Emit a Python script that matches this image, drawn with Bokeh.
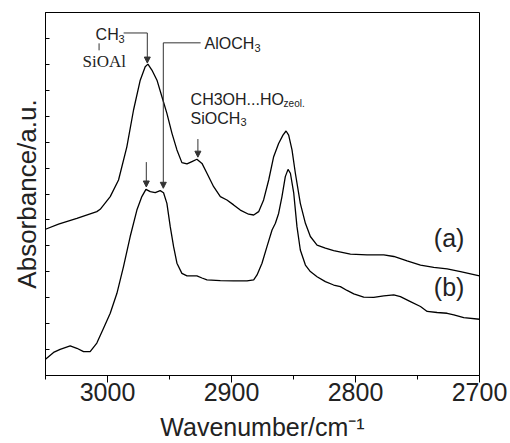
from bokeh.plotting import figure
from bokeh.models import FixedTicker, Label, Arrow, NormalHead
from bokeh.embed import file_html
from bokeh.resources import INLINE

# ---- data ----
wn_a = [3050.0, 3039.5, 3024.7, 3008.6, 3005.9, 2997.8, 2991.1, 2984.4, 2979.0, 2973.6,
        2969.6, 2967.4, 2964.2, 2960.1, 2956.1, 2952.1, 2948.0, 2944.0, 2940.0, 2935.9,
        2931.9, 2927.9, 2923.8, 2919.8, 2914.4, 2909.0, 2903.7, 2898.3, 2892.9, 2886.2,
        2882.1, 2878.1, 2874.1, 2870.0, 2866.0, 2862.0, 2858.5, 2856.0, 2853.9, 2851.2,
        2848.5, 2844.5, 2840.4, 2836.4, 2831.0, 2824.3, 2817.6, 2804.1, 2790.7, 2777.2,
        2769.1, 2758.4, 2747.6, 2736.9, 2726.1, 2715.3, 2700.0]
abs_a = [5.64, 5.84, 6.06, 6.32, 6.41, 6.90, 7.54, 8.82, 10.24, 11.39,
         11.91, 12.01, 11.78, 11.39, 10.75, 10.11, 9.34, 8.70, 8.21, 8.16,
         8.25, 8.34, 8.18, 7.80, 7.28, 6.90, 6.77, 6.58, 6.38, 6.22,
         6.19, 6.32, 6.77, 7.54, 8.44, 8.95, 9.27, 9.43, 9.27, 8.70,
         7.80, 6.64, 5.87, 5.36, 5.03, 4.91, 4.82, 4.68, 4.65, 4.65,
         4.59, 4.42, 4.26, 4.17, 4.11, 4.01, 3.84]

wn_b = [3050.0, 3043.5, 3038.2, 3030.1, 3024.7, 3019.3, 3014.0, 3008.6, 3003.2, 2997.8,
        2992.4, 2987.1, 2981.7, 2976.3, 2972.3, 2969.0, 2965.5, 2961.5, 2957.5, 2954.8,
        2952.1, 2949.4, 2946.7, 2944.0, 2940.0, 2935.9, 2927.9, 2923.8, 2919.8, 2909.0,
        2898.3, 2887.5, 2882.1, 2879.4, 2875.4, 2871.4, 2867.3, 2864.6, 2862.0, 2859.3,
        2856.6, 2854.4, 2852.5, 2849.8, 2847.2, 2844.5, 2840.4, 2836.4, 2831.0, 2824.3,
        2817.6, 2812.2, 2806.8, 2801.4, 2793.4, 2785.3, 2777.2, 2769.1, 2763.8, 2755.7,
        2747.6, 2742.2, 2734.2, 2726.1, 2720.7, 2712.7, 2700.0]
abs_b = [0.63, 0.89, 1.01, 1.14, 1.05, 0.92, 0.92, 1.25, 1.82, 2.40,
         3.17, 4.20, 5.36, 6.38, 6.90, 7.18, 7.09, 7.05, 7.13, 7.05,
         6.64, 5.74, 4.97, 4.33, 3.94, 3.84, 3.84, 3.76, 3.69, 3.66,
         3.65, 3.65, 3.69, 3.88, 4.33, 4.97, 5.61, 5.87, 6.25, 6.90,
         7.67, 7.95, 7.80, 7.03, 5.74, 4.84, 4.26, 4.01, 3.81, 3.62,
         3.49, 3.43, 3.28, 3.15, 3.02, 3.01, 3.07, 3.11, 3.04, 2.85,
         2.66, 2.47, 2.43, 2.40, 2.34, 2.23, 2.17]

x_major = [3000, 2900, 2800, 2700]
x_minor = [3050, 2950, 2850, 2750]
y_ticks = list(range(0, 15))

SANS = "Liberation Sans"
SERIF = "Liberation Serif"
TXT = "#222222"

p = figure(width=510, height=443, output_backend="svg", toolbar_location=None,
           x_range=(3050, 2700), y_range=(0, 14),
           min_border_left=45, min_border_right=31, min_border_top=12, min_border_bottom=67)
p.grid.visible = False
p.outline_line_color = "black"
p.outline_line_width = 1
p.background_fill_color = "white"
p.border_fill_color = "white"

p.line(wn_a, abs_a, line_color="black", line_width=1.3)
p.line(wn_b, abs_b, line_color="black", line_width=1.3)

# x axis
p.xaxis.ticker = FixedTicker(ticks=x_major, minor_ticks=x_minor)
p.xaxis.major_tick_out = 7
p.xaxis.major_tick_in = 0
p.xaxis.minor_tick_out = 4
p.xaxis.minor_tick_in = 0
p.xaxis.major_label_text_font = SANS
p.xaxis.major_label_text_font_size = "25px"
p.xaxis.major_label_text_color = TXT
p.xaxis.major_label_standoff = 0
p.xaxis.axis_label = "Wavenumber/cm\u207b\u00b9"
p.xaxis.axis_label_text_font = SANS
p.xaxis.axis_label_text_font_style = "normal"
p.xaxis.axis_label_text_font_size = "25px"
p.xaxis.axis_label_text_color = TXT
p.xaxis.axis_label_standoff = 9
p.xaxis.axis_line_color = "black"

# y axis (ticks inside, no tick labels)
p.yaxis.ticker = FixedTicker(ticks=y_ticks, minor_ticks=[])
p.yaxis.major_label_overrides = {t: "" for t in y_ticks}
p.yaxis.major_tick_in = 4
p.yaxis.major_tick_out = 0
p.yaxis.major_tick_line_color = "black"
p.yaxis.minor_tick_in = 0
p.yaxis.minor_tick_out = 0
p.yaxis.major_label_text_font_size = "10px"
p.yaxis.major_label_standoff = 0
p.yaxis.axis_label = "Absorbance/a.u."
p.yaxis.axis_label_text_font = SANS
p.yaxis.axis_label_text_font_style = "normal"
p.yaxis.axis_label_text_font_size = "26px"
p.yaxis.axis_label_text_color = TXT
p.yaxis.axis_label_standoff = 4

# ---- annotations ----
def lab(x, y, t, size="16px", font=SANS, xo=0, yo=0):
    p.add_layout(Label(x=x, y=y, text=t, text_font=font, text_font_size=size,
                       text_color=TXT, text_baseline="middle", text_align="left",
                       x_offset=xo, y_offset=yo))

ann_col = "#333333"

def seg(x0, y0, x1, y1):
    p.segment(x0=[x0], y0=[y0], x1=[x1], y1=[y1], line_color=ann_col, line_width=1)

def arr(x0, y0, x1, y1):
    p.add_layout(Arrow(x_start=x0, y_start=y0, x_end=x1, y_end=y1, line_color=ann_col,
                       line_width=1,
                       end=NormalHead(size=6, fill_color=ann_col, line_color=ann_col)))

# CH3 / SiOAl
lab(3020.1, 12.12, "SiOAl", size="17px", font=SERIF)
lab(3009.6, 13.15, "CH", size="16px")
lab(3009.6, 13.15, "3", size="11px", xo=23, yo=-4)
seg(3006.8, 12.54, 3006.8, 12.81)
seg(2987.0, 13.21, 2967.9, 13.21)
arr(2967.9, 13.21, 2967.9, 12.05)

# AlOCH3
lab(2921.7, 12.8, "AlOCH", size="16px")
lab(2921.7, 12.8, "3", size="11px", xo=50, yo=-4)
seg(2924.9, 12.83, 2955.0, 12.83)
arr(2955.0, 12.83, 2955.0, 7.22)

# arrow to first peak of (b)
arr(2968.7, 8.23, 2968.7, 7.27)

# CH3OH...HOzeol. / SiOCH3
lab(2933.0, 10.65, "CH3OH...HO", size="16px")
lab(2933.0, 10.65, "zeol.", size="10px", xo=93, yo=-4)
lab(2933.0, 9.92, "SiOCH", size="16px")
lab(2933.0, 9.92, "3", size="11px", xo=50, yo=-4)
arr(2927.1, 9.12, 2927.1, 8.42)

# curve labels
lab(2736.8, 5.31, "(a)", size="25px")
lab(2736.8, 3.42, "(b)", size="25px")

open("out.html", "w").write(file_html(p, INLINE))
